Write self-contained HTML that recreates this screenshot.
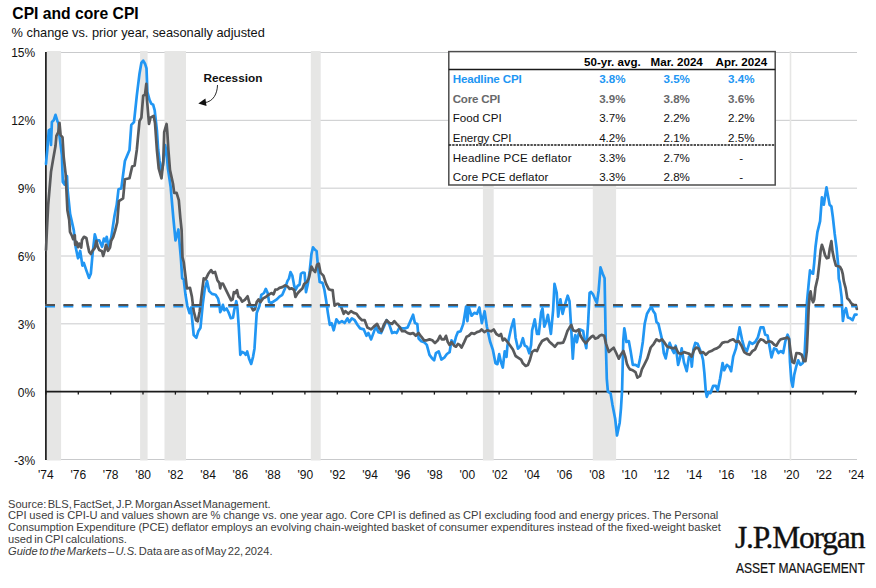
<!DOCTYPE html>
<html><head><meta charset="utf-8"><title>CPI and core CPI</title>
<style>
html,body{margin:0;padding:0;background:#fff;}
body{width:876px;height:588px;position:relative;overflow:hidden;font-family:"Liberation Sans",sans-serif;color:#111;}
.abs{position:absolute;white-space:nowrap;}
.title{left:12.3px;top:4.6px;font-size:15.7px;font-weight:bold;line-height:18px;color:#000;}
.sub{left:11.6px;top:25.6px;font-size:12.8px;line-height:14px;color:#111;}
.yl{position:absolute;left:0;width:35px;text-align:right;font-size:12px;letter-spacing:-0.1px;line-height:15px;color:#111;}
.xl{position:absolute;top:467.8px;width:40px;text-align:center;font-size:12px;line-height:15px;color:#111;}
svg{position:absolute;left:0;top:0;}
.tc{position:absolute;width:80px;text-align:center;font-size:11.6px;line-height:14px;white-space:nowrap;color:#111;}
.tlab{position:absolute;font-size:11.6px;line-height:14px;white-space:nowrap;color:#111;}
.hd{font-weight:bold;color:#000;}
.bl{font-weight:bold;color:#2196f3;}
.gr{color:#68696b;font-weight:bold;}
.foot{position:absolute;left:7.9px;font-size:10.5px;line-height:12px;color:#3c3c3c;white-space:nowrap;transform:scaleX(1.06);transform-origin:left top;}
.logo1{position:absolute;left:735px;top:520.4px;-webkit-text-stroke:0.35px #111;font-family:"Liberation Serif",serif;font-size:31.5px;line-height:36px;letter-spacing:-1.2px;color:#111;white-space:nowrap;}
.logo2{position:absolute;left:736px;top:560.6px;font-size:13.9px;line-height:15px;color:#111;white-space:nowrap;-webkit-text-stroke:0.2px #111;transform:scaleX(0.866);transform-origin:left top;}
</style></head><body>
<div class="abs title">CPI and core CPI</div>
<div class="abs sub">% change vs. prior year, seasonally adjusted</div>
<div class="yl" style="top:46.2px">15%</div>
<div class="yl" style="top:114.2px">12%</div>
<div class="yl" style="top:182.2px">9%</div>
<div class="yl" style="top:250.3px">6%</div>
<div class="yl" style="top:318.3px">3%</div>
<div class="yl" style="top:386.3px">0%</div>
<div class="yl" style="top:454.3px">-3%</div>

<div class="xl" style="left:25.9px">'74</div>
<div class="xl" style="left:58.3px">'76</div>
<div class="xl" style="left:90.7px">'78</div>
<div class="xl" style="left:123.2px">'80</div>
<div class="xl" style="left:155.6px">'82</div>
<div class="xl" style="left:188.0px">'84</div>
<div class="xl" style="left:220.4px">'86</div>
<div class="xl" style="left:252.8px">'88</div>
<div class="xl" style="left:285.3px">'90</div>
<div class="xl" style="left:317.7px">'92</div>
<div class="xl" style="left:350.1px">'94</div>
<div class="xl" style="left:382.5px">'96</div>
<div class="xl" style="left:414.9px">'98</div>
<div class="xl" style="left:447.4px">'00</div>
<div class="xl" style="left:479.8px">'02</div>
<div class="xl" style="left:512.2px">'04</div>
<div class="xl" style="left:544.6px">'06</div>
<div class="xl" style="left:577.0px">'08</div>
<div class="xl" style="left:609.5px">'10</div>
<div class="xl" style="left:641.9px">'12</div>
<div class="xl" style="left:674.3px">'14</div>
<div class="xl" style="left:706.7px">'16</div>
<div class="xl" style="left:739.1px">'18</div>
<div class="xl" style="left:771.6px">'20</div>
<div class="xl" style="left:804.0px">'22</div>
<div class="xl" style="left:836.4px">'24</div>

<svg width="876" height="588" viewBox="0 0 876 588">
<line x1="46" x2="857" y1="52.50" y2="52.50" stroke="#c9cacc" stroke-width="1"/>
<line x1="46" x2="857" y1="120.33" y2="120.33" stroke="#c9cacc" stroke-width="1"/>
<line x1="46" x2="857" y1="188.17" y2="188.17" stroke="#c9cacc" stroke-width="1"/>
<line x1="46" x2="857" y1="256.00" y2="256.00" stroke="#c9cacc" stroke-width="1"/>
<line x1="46" x2="857" y1="323.83" y2="323.83" stroke="#c9cacc" stroke-width="1"/>
<line x1="46" x2="857" y1="459.50" y2="459.50" stroke="#c9cacc" stroke-width="1"/>

<rect x="46.7" y="51" width="14.4" height="409.5" fill="#e6e6e5"/>
<rect x="140.1" y="51" width="7.5" height="409.5" fill="#e6e6e5"/>
<rect x="164.5" y="51" width="21.5" height="409.5" fill="#e6e6e5"/>
<rect x="310.8" y="51" width="9.9" height="409.5" fill="#e6e6e5"/>
<rect x="482.9" y="51" width="10.8" height="409.5" fill="#e6e6e5"/>
<rect x="592.8" y="51" width="23.3" height="409.5" fill="#e6e6e5"/>
<rect x="789.7" y="51" width="1.6" height="409.5" fill="#e6e6e5"/>

<line x1="45.9" x2="45.9" y1="52" y2="460" stroke="#1a1a1a" stroke-width="1.7"/>
<line x1="45.1" x2="857" y1="391.6" y2="391.6" stroke="#1a1a1a" stroke-width="1.7"/>
<line x1="45.9" x2="45.9" y1="391.6" y2="394.6" stroke="#1a1a1a" stroke-width="1.3"/>
<line x1="78.3" x2="78.3" y1="391.6" y2="394.6" stroke="#1a1a1a" stroke-width="1.3"/>
<line x1="110.7" x2="110.7" y1="391.6" y2="394.6" stroke="#1a1a1a" stroke-width="1.3"/>
<line x1="143.0" x2="143.0" y1="391.6" y2="394.6" stroke="#1a1a1a" stroke-width="1.3"/>
<line x1="175.4" x2="175.4" y1="391.6" y2="394.6" stroke="#1a1a1a" stroke-width="1.3"/>
<line x1="207.8" x2="207.8" y1="391.6" y2="394.6" stroke="#1a1a1a" stroke-width="1.3"/>
<line x1="240.2" x2="240.2" y1="391.6" y2="394.6" stroke="#1a1a1a" stroke-width="1.3"/>
<line x1="272.5" x2="272.5" y1="391.6" y2="394.6" stroke="#1a1a1a" stroke-width="1.3"/>
<line x1="304.9" x2="304.9" y1="391.6" y2="394.6" stroke="#1a1a1a" stroke-width="1.3"/>
<line x1="337.3" x2="337.3" y1="391.6" y2="394.6" stroke="#1a1a1a" stroke-width="1.3"/>
<line x1="369.6" x2="369.6" y1="391.6" y2="394.6" stroke="#1a1a1a" stroke-width="1.3"/>
<line x1="402.0" x2="402.0" y1="391.6" y2="394.6" stroke="#1a1a1a" stroke-width="1.3"/>
<line x1="434.4" x2="434.4" y1="391.6" y2="394.6" stroke="#1a1a1a" stroke-width="1.3"/>
<line x1="466.8" x2="466.8" y1="391.6" y2="394.6" stroke="#1a1a1a" stroke-width="1.3"/>
<line x1="499.1" x2="499.1" y1="391.6" y2="394.6" stroke="#1a1a1a" stroke-width="1.3"/>
<line x1="531.5" x2="531.5" y1="391.6" y2="394.6" stroke="#1a1a1a" stroke-width="1.3"/>
<line x1="563.9" x2="563.9" y1="391.6" y2="394.6" stroke="#1a1a1a" stroke-width="1.3"/>
<line x1="596.3" x2="596.3" y1="391.6" y2="394.6" stroke="#1a1a1a" stroke-width="1.3"/>
<line x1="628.6" x2="628.6" y1="391.6" y2="394.6" stroke="#1a1a1a" stroke-width="1.3"/>
<line x1="661.0" x2="661.0" y1="391.6" y2="394.6" stroke="#1a1a1a" stroke-width="1.3"/>
<line x1="693.4" x2="693.4" y1="391.6" y2="394.6" stroke="#1a1a1a" stroke-width="1.3"/>
<line x1="725.8" x2="725.8" y1="391.6" y2="394.6" stroke="#1a1a1a" stroke-width="1.3"/>
<line x1="758.1" x2="758.1" y1="391.6" y2="394.6" stroke="#1a1a1a" stroke-width="1.3"/>
<line x1="790.5" x2="790.5" y1="391.6" y2="394.6" stroke="#1a1a1a" stroke-width="1.3"/>
<line x1="822.9" x2="822.9" y1="391.6" y2="394.6" stroke="#1a1a1a" stroke-width="1.3"/>
<line x1="855.3" x2="855.3" y1="391.6" y2="394.6" stroke="#1a1a1a" stroke-width="1.3"/>

<polyline points="46.0,164.0 46.6,157.0 47.3,150.0 48.2,138.0 48.8,130.4 50.0,129.5 51.0,145.0 51.9,122.0 53.7,120.3 55.5,114.8 57.4,121.2 58.3,123.0 59.7,137.7 61.9,155.0 62.8,182.0 64.7,184.7 67.0,176.0 67.6,190.0 70.1,213.9 73.8,230.4 75.6,246.8 78.0,258.3 80.2,251.0 82.4,265.6 83.8,262.9 86.6,271.1 89.0,277.9 90.8,273.8 92.6,253.7 94.8,234.3 96.6,240.4 99.4,240.4 102.1,246.8 103.9,238.6 105.4,241.3 106.7,236.8 108.5,246.8 111.2,237.7 114.5,215.8 116.7,204.8 118.5,189.3 121.3,188.4 124.9,161.0 129.5,150.0 131.3,124.9 134.0,122.1 136.8,95.7 139.5,73.7 141.4,62.8 143.2,60.6 145.0,63.7 146.5,68.3 147.4,92.0 149.6,100.2 151.4,103.9 153.2,104.8 154.7,110.3 156.9,130.4 158.2,150.0 159.6,161.0 161.5,171.9 163.0,165.0 165.1,145.0 166.5,152.0 167.9,168.3 170.6,186.5 173.3,217.6 175.5,240.4 178.4,229.5 179.7,245.0 180.9,258.3 182.2,278.4 183.7,279.3 185.5,294.8 187.3,305.8 189.5,313.1 191.0,307.6 193.7,335.0 196.4,337.7 198.3,331.3 200.5,327.7 202.8,303.9 204.7,289.3 207.0,281.1 209.2,291.1 212.0,293.9 215.6,294.8 218.0,298.4 219.3,303.9 220.2,312.1 221.6,309.4 222.9,304.8 224.4,310.3 226.6,308.5 228.4,312.1 230.8,318.2 233.0,317.6 234.2,310.3 236.3,301.2 237.5,309.0 238.8,327.4 240.3,354.8 242.1,352.0 244.3,353.0 245.8,354.8 247.2,351.5 249.0,358.4 251.2,363.9 253.1,356.6 254.5,348.4 255.8,327.4 256.7,313.1 259.5,305.8 261.3,294.8 264.0,293.0 265.8,288.9 267.7,293.0 269.1,302.1 271.3,303.0 274.1,301.2 276.8,299.4 279.5,296.6 282.3,294.8 285.0,288.4 287.4,281.1 289.0,278.4 290.5,272.0 292.3,275.6 294.2,285.7 295.4,290.2 297.8,285.7 299.6,284.7 300.9,273.8 302.7,272.5 304.6,272.9 306.0,292.1 307.9,283.8 309.7,271.0 311.5,253.7 313.0,247.3 315.2,250.0 316.6,251.0 318.4,271.0 319.7,282.0 322.5,282.9 324.3,289.3 326.1,300.3 327.9,313.1 329.8,324.9 331.6,323.1 333.7,330.3 336.4,319.3 339.1,323.0 341.9,321.1 344.6,323.0 347.4,318.4 349.2,322.1 351.9,318.4 354.7,320.2 357.4,324.8 360.1,328.4 363.8,329.4 366.5,335.8 368.4,333.0 371.1,339.4 373.8,332.1 375.7,326.6 378.4,332.1 381.1,333.0 383.9,326.6 386.6,320.2 389.4,324.8 392.1,333.0 394.8,332.1 396.7,333.0 399.4,327.5 402.1,328.4 404.9,328.4 407.6,327.5 410.4,321.1 413.1,314.7 414.9,323.0 417.3,323.9 418.6,338.5 421.3,341.2 424.1,342.1 426.8,344.9 429.5,354.9 432.3,358.6 434.1,360.4 435.9,353.1 438.7,351.3 441.4,359.5 444.2,357.7 446.9,354.0 449.6,352.2 451.5,340.3 454.2,344.0 456.0,336.7 457.9,332.1 460.6,331.2 463.3,323.9 466.1,306.5 467.4,321.1 468.8,307.4 471.6,315.7 474.3,312.9 477.0,313.8 479.4,307.4 481.8,323.1 484.6,311.2 486.9,326.7 490.0,341.3 492.8,349.6 495.5,363.3 497.4,364.2 499.2,354.2 501.0,362.4 502.8,367.5 504.7,351.4 506.5,356.9 507.4,346.0 509.2,337.0 511.1,328.5 513.8,319.4 515.6,338.0 518.0,348.7 520.5,346.0 522.9,338.2 524.7,345.5 527.1,346.9 529.3,353.3 531.1,345.0 532.1,330.4 534.8,319.4 537.0,334.0 538.8,334.0 541.2,312.1 542.5,308.4 544.3,326.7 546.1,322.1 547.9,314.8 550.9,334.0 553.1,310.3 554.5,283.8 556.7,292.9 558.2,316.7 560.4,299.3 562.6,313.9 564.9,304.8 567.7,295.7 569.5,301.1 571.3,330.0 572.8,358.7 574.1,340.0 575.3,335.0 576.8,342.3 578.6,334.0 580.1,329.5 583.2,331.0 584.5,340.5 586.3,348.2 588.1,323.1 589.6,292.9 591.1,292.0 593.2,294.7 595.1,299.3 596.9,303.0 598.7,290.2 600.5,267.4 602.7,273.7 604.6,278.3 605.6,335.0 606.8,378.8 607.9,391.6 610.6,393.4 612.4,404.4 615.2,419.0 617.0,435.5 619.7,422.7 621.0,408.1 622.1,389.8 623.3,340.0 624.3,328.3 625.2,332.9 626.4,342.0 628.8,341.1 630.6,351.1 632.8,364.8 635.5,364.8 638.3,366.7 640.5,356.6 642.8,342.0 644.7,323.7 647.0,313.7 649.2,310.0 651.4,306.4 653.2,311.0 655.1,313.7 656.5,321.9 658.4,323.7 660.5,332.9 662.4,341.1 663.8,353.0 665.7,358.4 667.5,349.3 669.7,342.9 672.1,349.3 673.9,353.0 675.7,345.7 678.1,364.8 679.9,358.4 681.7,348.4 683.9,362.1 686.7,371.2 689.0,356.6 690.9,356.6 691.8,366.7 693.4,349.3 695.3,342.9 697.6,343.8 699.5,348.4 701.3,353.0 703.1,360.3 704.4,373.1 705.8,391.3 706.8,396.8 708.6,392.2 710.4,393.2 713.2,385.8 715.9,385.8 717.7,390.4 720.1,378.5 722.6,363.0 724.1,370.3 726.8,364.8 729.2,366.7 731.1,371.2 733.2,356.6 736.0,348.4 737.8,337.4 739.6,327.4 742.0,339.3 744.2,347.5 746.9,351.1 749.7,342.0 752.4,343.8 755.2,342.0 757.9,337.4 760.6,327.4 763.4,327.4 765.2,334.7 767.6,335.6 769.4,345.7 771.5,357.5 774.1,348.4 776.3,349.3 778.5,353.0 780.8,351.1 783.2,353.0 785.4,341.1 787.6,334.7 789.1,338.4 790.0,362.1 791.3,380.4 792.7,386.8 794.2,374.9 796.4,365.8 798.2,360.3 800.4,364.8 802.8,363.0 804.6,354.8 805.9,327.4 806.8,303.9 808.5,285.7 810.0,270.3 811.6,273.1 813.1,273.7 814.2,262.8 815.5,247.0 817.4,232.1 820.1,221.1 821.9,197.4 823.8,204.7 825.3,195.0 826.5,187.4 828.3,197.4 829.6,204.7 831.4,206.5 832.9,217.5 834.7,233.9 836.5,247.5 838.2,265.1 838.8,278.8 839.9,283.4 841.6,297.1 842.9,321.0 844.2,312.8 846.0,308.2 847.9,317.4 850.2,318.3 852.6,320.1 854.8,314.6 856.6,314.6" fill="none" stroke="#2196f3" stroke-width="2.7" stroke-linejoin="round" stroke-linecap="round"/>
<polyline points="46.0,250.0 47.0,228.0 48.2,204.8 51.0,171.9 53.0,160.0 55.5,146.0 56.4,135.8 58.3,132.2 59.5,123.0 60.6,135.0 62.5,137.3 63.7,157.0 65.6,173.7 67.4,210.3 69.2,220.0 70.0,232.0 72.0,236.0 73.2,239.2 74.8,235.2 75.2,244.8 76.6,242.0 78.0,247.2 79.2,243.6 81.2,247.6 82.0,240.0 84.0,236.8 86.4,238.0 88.0,246.4 89.2,252.0 90.8,254.0 92.4,250.8 94.8,248.0 96.4,240.8 97.6,246.4 99.2,250.0 102.0,251.2 103.2,256.0 104.8,250.4 106.0,244.8 108.0,250.8 110.0,247.6 111.2,240.8 113.2,237.2 115.2,230.4 117.2,222.4 118.9,201.1 123.1,198.4 124.9,179.2 129.5,178.3 132.2,166.4 134.6,165.5 136.8,150.0 139.5,121.2 141.4,117.6 143.2,95.7 145.0,94.7 146.3,83.8 146.8,97.5 149.0,124.0 150.5,117.6 153.6,115.8 155.0,123.0 156.9,150.0 158.7,168.3 161.5,178.3 163.3,161.0 164.2,132.2 166.6,124.0 167.3,132.2 168.4,150.0 170.0,170.1 173.0,183.8 174.2,192.9 176.6,192.9 178.8,200.2 180.3,217.6 181.6,230.0 182.5,257.4 183.7,262.0 185.5,276.5 186.9,288.4 190.0,287.9 191.9,296.6 193.7,311.2 196.1,320.4 197.7,321.3 199.7,311.2 201.6,294.8 203.7,278.4 205.6,279.3 208.3,273.8 211.1,270.1 212.9,272.9 215.1,272.0 217.4,280.2 219.3,282.9 220.2,288.4 221.1,283.8 222.9,283.5 225.7,289.3 228.4,294.8 231.1,300.3 232.6,299.4 233.9,292.1 235.3,293.0 237.0,290.2 238.4,296.6 240.3,298.1 242.1,301.7 244.8,299.9 247.6,296.3 249.4,303.0 251.2,306.7 253.1,310.3 254.9,309.4 256.7,302.1 258.5,299.4 260.4,302.1 263.1,298.4 265.8,297.0 268.6,294.8 271.3,293.0 273.5,294.4 275.3,289.7 277.7,289.3 279.5,287.9 282.3,287.1 285.0,285.3 287.8,286.6 289.6,288.9 291.8,288.4 294.2,290.2 295.4,297.0 297.8,293.0 300.5,290.2 302.4,288.4 304.2,283.8 306.9,282.0 308.8,278.4 311.5,266.5 313.3,270.1 315.2,272.0 317.0,264.7 318.8,263.7 320.6,272.9 323.4,275.6 326.1,283.8 328.9,289.3 331.6,290.2 332.7,290.1 333.4,296.6 334.6,305.6 337.1,303.9 338.2,303.8 341.0,306.5 343.7,313.8 345.5,311.1 348.3,313.8 351.0,311.1 353.7,312.9 356.5,313.8 359.2,317.5 362.0,320.2 364.7,320.2 367.4,327.5 371.1,329.4 373.8,326.6 377.1,323.9 379.3,328.4 381.5,331.2 383.9,324.8 386.6,320.2 389.4,323.0 392.1,323.9 394.3,321.1 396.7,323.9 399.4,326.6 402.1,331.2 404.9,331.2 407.6,333.0 410.4,333.9 413.1,333.0 415.8,335.8 418.6,333.0 421.3,336.7 424.1,340.3 426.8,340.3 429.5,339.4 432.3,340.3 435.0,343.1 437.8,340.3 440.0,335.8 441.8,339.4 444.2,339.4 446.0,335.8 447.8,342.1 449.6,344.9 451.5,342.1 454.2,345.8 456.0,346.7 457.9,344.0 459.7,344.9 461.5,347.6 464.2,342.1 466.6,336.7 468.8,335.8 471.6,333.0 474.3,333.9 477.0,332.1 479.8,331.2 481.6,329.4 484.3,332.1 487.1,330.3 491.0,331.3 493.7,329.5 496.4,334.0 499.2,335.8 501.0,334.0 502.8,340.4 504.7,338.6 507.4,341.8 510.1,345.5 512.9,349.5 515.6,356.0 518.4,357.8 521.1,359.7 522.9,363.3 525.7,366.0 527.9,365.1 529.7,360.6 532.1,352.0 534.8,350.0 537.0,351.0 539.4,345.5 542.1,341.0 544.8,339.5 547.2,338.6 549.4,341.8 552.1,344.1 554.9,346.8 557.6,343.2 560.4,343.2 563.1,342.7 564.9,338.6 567.3,331.3 569.5,327.6 571.3,324.9 573.2,330.4 575.9,331.3 578.6,329.5 580.5,335.8 583.2,340.4 585.9,343.2 588.7,339.5 591.4,336.8 593.2,335.8 595.1,338.6 597.8,337.7 599.6,335.8 601.5,334.9 604.2,335.8 606.0,343.6 608.8,351.9 611.5,349.5 613.7,347.7 616.1,352.8 618.8,358.7 620.6,355.0 623.4,351.0 625.5,357.5 627.0,364.2 628.2,366.7 630.0,369.4 632.8,370.3 635.5,372.1 637.4,377.6 640.1,375.8 641.9,369.4 644.7,363.9 647.4,358.4 650.7,347.5 653.8,343.8 656.5,339.3 659.3,341.1 662.0,339.3 664.7,342.9 667.1,346.6 670.2,347.5 673.0,348.4 675.7,347.5 678.4,353.0 681.2,353.9 683.9,352.1 686.7,353.0 689.4,353.9 691.6,356.6 694.0,350.2 696.3,347.5 698.5,348.4 700.4,353.0 703.1,352.1 705.8,354.8 708.6,352.1 711.3,351.1 714.1,349.3 716.8,348.4 719.5,346.6 722.3,342.9 725.0,342.0 727.8,342.0 730.5,340.2 733.2,339.3 736.0,342.0 738.7,341.1 741.5,345.7 744.2,352.1 746.9,353.9 749.7,354.8 752.4,351.1 755.2,349.3 757.9,342.9 760.6,339.3 763.4,340.2 766.1,342.9 768.9,341.1 771.6,342.0 774.3,344.7 776.3,345.7 779.0,341.1 780.8,339.3 784.5,338.4 787.2,337.4 789.1,339.3 790.5,351.1 792.3,362.1 794.2,363.0 796.4,353.0 799.1,353.3 801.8,354.8 803.7,361.2 805.5,361.2 806.8,351.1 807.9,327.4 808.7,307.0 809.7,294.8 810.6,291.4 811.6,298.2 813.1,302.2 814.2,299.4 815.4,287.9 817.7,277.7 819.4,262.8 820.7,250.3 821.9,244.8 823.4,249.1 825.1,255.4 826.8,258.3 828.5,257.7 829.7,249.1 831.4,241.1 832.5,251.4 834.2,259.4 835.9,265.7 838.2,266.3 839.9,266.8 841.6,269.7 842.8,274.2 843.9,281.7 845.6,287.9 847.3,298.2 849.1,299.9 851.3,303.4 853.6,304.8 855.9,305.1 856.8,309.0" fill="none" stroke="#595a5c" stroke-width="2.7" stroke-linejoin="round" stroke-linecap="round"/>
<line x1="45.1" x2="857" y1="306.1" y2="306.1" stroke="#2196f3" stroke-width="2.8" stroke-dasharray="9.9 8.42"/>
<line x1="45.1" x2="857" y1="305" y2="305" stroke="#505152" stroke-width="2.1" stroke-dasharray="9.9 8.42"/>
<path d="M217.5,85 C217.3,93.5 213.5,101.6 204.5,102.7" fill="none" stroke="#111" stroke-width="0.9"/>
<path d="M198.3,103.4 L205.4,98.4 L206.5,106.1 Z" fill="#111"/>
<rect x="448.8" y="51.6" width="326.4" height="133.4" fill="#fff" stroke="#4d4d4d" stroke-width="1.5"/>
<line x1="448.8" x2="775.2" y1="69.5" y2="69.5" stroke="#1a1a1a" stroke-width="1.6"/>
<line x1="448.8" x2="775.2" y1="145" y2="145" stroke="#1a1a1a" stroke-width="1.6" stroke-dasharray="2.4 1"/>
</svg>
<div class="abs" style="left:203.4px;top:70.6px;font-size:11.8px;font-weight:bold;line-height:14px;color:#111;">Recession</div>
<div class="tc hd" style="left:572.4px;top:54.7px;">50-yr. avg.</div>
<div class="tc hd" style="left:636.7px;top:54.7px;">Mar. 2024</div>
<div class="tc hd" style="left:701.3px;top:54.7px;">Apr. 2024</div>
<div class="tlab bl" style="left:452.7px;top:71.8px;letter-spacing:-0.17px;">Headline CPI</div>
<div class="tc bl" style="left:572.4px;top:71.8px;">3.8%</div>
<div class="tc bl" style="left:636.7px;top:71.8px;">3.5%</div>
<div class="tc bl" style="left:701.3px;top:71.8px;">3.4%</div>
<div class="tlab gr" style="left:452.7px;top:92.2px;letter-spacing:-0.2px;">Core CPI</div>
<div class="tc gr" style="left:572.4px;top:92.2px;">3.9%</div>
<div class="tc gr" style="left:636.7px;top:92.2px;">3.8%</div>
<div class="tc gr" style="left:701.3px;top:92.2px;">3.6%</div>
<div class="tlab " style="left:452.7px;top:111.0px;">Food CPI</div>
<div class="tc " style="left:572.4px;top:111.0px;">3.7%</div>
<div class="tc " style="left:636.7px;top:111.0px;">2.2%</div>
<div class="tc " style="left:701.3px;top:111.0px;">2.2%</div>
<div class="tlab " style="left:452.7px;top:131.2px;word-spacing:-0.5px;">Energy CPI</div>
<div class="tc " style="left:572.4px;top:131.2px;">4.2%</div>
<div class="tc " style="left:636.7px;top:131.2px;">2.1%</div>
<div class="tc " style="left:701.3px;top:131.2px;">2.5%</div>
<div class="tlab " style="left:452.7px;top:150.9px;letter-spacing:0.21px;">Headline PCE deflator</div>
<div class="tc " style="left:572.4px;top:150.9px;">3.3%</div>
<div class="tc " style="left:636.7px;top:150.9px;">2.7%</div>
<div class="tc " style="left:701.3px;top:150.9px;">-</div>
<div class="tlab " style="left:452.7px;top:170.0px;letter-spacing:0.1px;">Core PCE deflator</div>
<div class="tc " style="left:572.4px;top:170.0px;">3.3%</div>
<div class="tc " style="left:636.7px;top:170.0px;">2.8%</div>
<div class="tc " style="left:701.3px;top:170.0px;">-</div>

<div class="foot" id="f0" style="top:498.2px;word-spacing:-1.67px">Source: BLS, FactSet, J.P. Morgan Asset Management.</div>
<div class="foot" id="f1" style="top:509.1px;word-spacing:-0.26px">CPI used is CPI-U and values shown are % change vs. one year ago. Core CPI is defined as CPI excluding food and energy prices. The Personal</div>
<div class="foot" id="f2" style="top:521.1px;word-spacing:-0.36px">Consumption Expenditure (PCE) deflator employs an evolving chain-weighted basket of consumer expenditures instead of the fixed-weight basket</div>
<div class="foot" id="f3" style="top:533.1px;word-spacing:-0.97px">used in CPI calculations.</div>
<div class="foot" id="f4" style="top:545.1px;word-spacing:-1.53px"><i>Guide to the Markets – U.S.</i> Data are as of May 22, 2024.</div>

<div class="logo1">J.P.Morgan</div>
<div class="logo2">ASSET MANAGEMENT</div>
</body></html>
